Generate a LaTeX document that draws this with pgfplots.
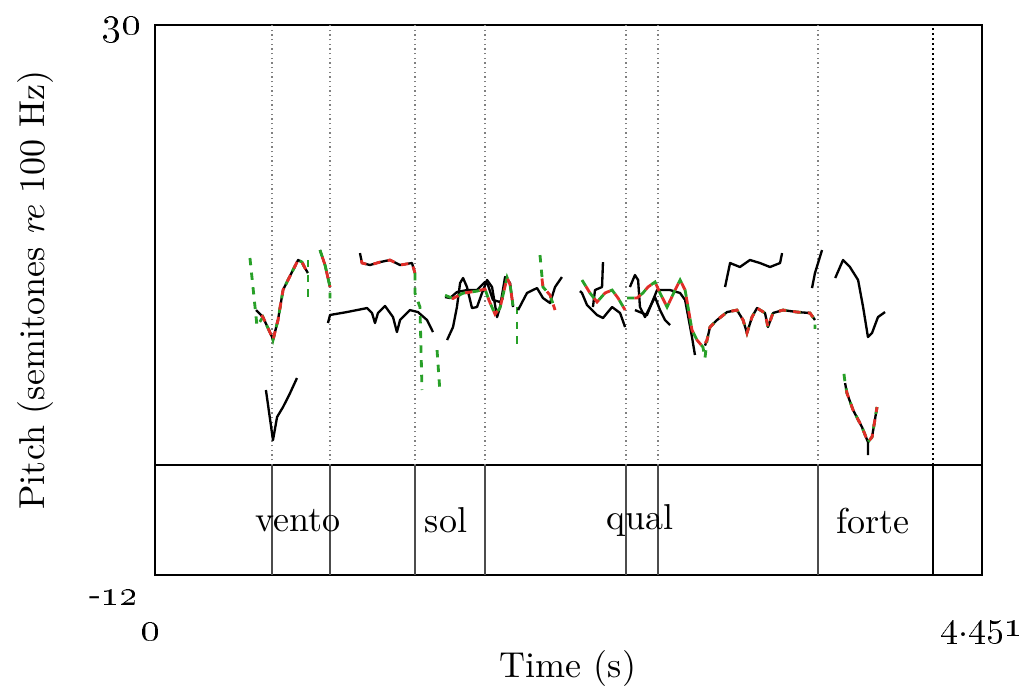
\documentclass[border=0pt]{standalone}
\usepackage{pgfplots}
\pgfplotsset{compat=1.18}
\definecolor{pred}{RGB}{225,45,40}
\definecolor{pgreen}{RGB}{40,160,40}
\begin{document}
\begin{tikzpicture}[font=\fontsize{10.8}{13}\selectfont]
\begin{axis}[name=ax,scale only axis,width=248.1pt,height=165pt,
  xmin=0,xmax=4.451,ymin=-22.5,ymax=30,
  xtick=\empty,ytick=\empty,axis line style={line width=0.45pt},
  blk/.style={black,line width=0.7pt,line join=round},
  gd/.style={pgreen,line width=0.85pt,dash pattern=on 2.2pt off 2.2pt},
  rd/.style={pred,line width=0.85pt,dash pattern=on 2.2pt off 2.2pt,dash phase=2.2pt},
  bnd/.style={gray,line width=0.4pt,densely dotted},
  tier/.style={black!70,line width=0.45pt}]
% tier separator
\addplot[black,line width=0.45pt] coordinates {(0,-12) (4.451,-12)};
% interval boundaries: dotted over pitch, solid in the tier
\foreach \t in {0.630,0.942,1.399,1.776,2.535,2.707,3.568}{
  \edef\tmp{\noexpand\addplot[bnd] coordinates {(\t,-12) (\t,30)};
    \noexpand\addplot[tier] coordinates {(\t,-22.5) (\t,-12)};}\tmp}
\addplot[black,line width=0.5pt,densely dotted] coordinates {(4.187,-12) (4.187,30)};
\addplot[black,line width=0.6pt] coordinates {(4.187,-22.5) (4.187,-12)};
% vento
\addplot[blk] coordinates {(0.544,2.79) (0.581,2.12) (0.630,0.22) (0.635,-0.07) (0.662,1.84) (0.689,4.70) (0.716,5.66) (0.770,7.57) (0.791,7.37) (0.807,6.80) (0.823,6.33)};
\addplot[gd] coordinates {(0.511,7.76) (0.549,1.27) (0.581,2.12) (0.630,0.22) (0.635,-0.07) (0.662,1.84) (0.689,4.70) (0.716,5.66) (0.770,7.57) (0.791,7.37) (0.807,6.80) (0.823,6.33)};
\addplot[rd] coordinates {(0.544,2.79) (0.581,2.12) (0.630,0.22) (0.635,-0.07) (0.662,1.84) (0.689,4.70) (0.716,5.66) (0.770,7.57) (0.791,7.37) (0.807,6.80) (0.823,6.33)};
\addplot[gd] coordinates {(0.823,7.57) (0.823,3.56)};
\addplot[blk] coordinates {(0.888,8.52) (0.915,7.09) (0.942,4.99)};
\addplot[gd] coordinates {(0.888,8.52) (0.915,7.09) (0.942,4.99) (0.942,3.9)};
\addplot[rd] coordinates {(0.888,8.52) (0.915,7.09) (0.942,4.99)};
\addplot[blk] coordinates {(0.597,-4.84) (0.635,-9.62) (0.657,-7.42) (0.689,-6.47) (0.727,-5.13) (0.764,-3.70)};
\addplot[blk] coordinates {(0.931,1.55) (0.942,2.32) (1.033,2.60) (1.141,2.98) (1.168,2.51) (1.184,1.55) (1.200,2.51) (1.238,3.18) (1.281,2.12) (1.302,0.69) (1.319,1.84) (1.372,2.79) (1.415,2.60) (1.464,1.84) (1.496,0.69)};
\addplot[blk] coordinates {(1.103,8.23) (1.114,7.28) (1.157,7.09) (1.211,7.37) (1.265,7.57) (1.319,7.09) (1.383,7.28) (1.399,6.33)};
\addplot[rd] coordinates {(1.103,8.23) (1.114,7.28) (1.157,7.09) (1.211,7.37) (1.265,7.57) (1.319,7.09) (1.383,7.28) (1.399,6.33)};
\addplot[gd] coordinates {(1.399,6.33) (1.399,4.42) (1.426,3.08) (1.437,-4.84)};
\addplot[gd] coordinates {(1.518,-1.03) (1.534,-5.13)};
% sol
\addplot[blk] coordinates {(1.572,-0.07) (1.604,1.17) (1.625,3.08) (1.642,5.37) (1.658,5.85) (1.679,4.99) (1.706,2.98) (1.733,3.08) (1.760,4.42) (1.787,5.66) (1.814,4.99) (1.841,2.12) (1.857,3.08) (1.884,5.94) (1.911,5.37) (1.927,3.08)};
\addplot[blk] coordinates {(1.561,4.03) (1.588,3.94) (1.625,4.51) (1.679,4.70) (1.733,4.70) (1.776,5.47) (1.792,5.18) (1.819,3.75) (1.857,3.56) (1.873,3.94)};
\addplot[gd] coordinates {(1.561,4.2) (1.604,3.9) (1.658,4.4) (1.733,4.6) (1.776,4.8) (1.798,3.7) (1.830,2.4) (1.857,3.0) (1.895,5.9) (1.911,5.2) (1.927,3.2)};
\addplot[rd] coordinates {(1.561,4.2) (1.604,3.9) (1.658,4.4) (1.733,4.6) (1.776,4.8) (1.798,3.7) (1.830,2.4) (1.857,3.0) (1.895,5.9) (1.911,5.2) (1.927,3.2)};
\addplot[gd] coordinates {(1.948,3.08) (1.948,-0.74)};
\addplot[blk] coordinates {(1.954,2.79) (2.002,4.42) (2.056,4.89) (2.088,3.94) (2.126,3.46) (2.153,4.99) (2.190,5.94)};
\addplot[gd] coordinates {(2.072,8.04) (2.088,4.99) (2.126,4.22) (2.153,2.79)};
\addplot[rd] coordinates {(2.078,6.5) (2.088,4.99) (2.126,4.22) (2.153,2.79)};
% qual
\addplot[blk] coordinates {(2.287,4.6) (2.298,4.42) (2.325,3.27) (2.379,2.32) (2.411,2.03) (2.460,3.08) (2.503,2.51) (2.530,1.17)};
\addplot[blk] coordinates {(2.357,3.08) (2.368,4.70) (2.406,4.99) (2.411,7.37)};
\addplot[gd] coordinates {(2.298,5.66) (2.341,4.42) (2.379,3.56) (2.422,4.42) (2.460,4.70) (2.492,3.94) (2.530,2.79)};
\addplot[rd] coordinates {(2.298,5.66) (2.341,4.42) (2.379,3.56) (2.422,4.42) (2.460,4.70) (2.492,3.94) (2.530,2.79)};
\addplot[blk] coordinates {(2.556,4.99) (2.583,6.13) (2.600,5.66) (2.610,3.08) (2.637,2.12) (2.664,3.08) (2.691,4.03) (2.718,2.79) (2.745,1.84) (2.772,1.36)};
\addplot[blk] coordinates {(2.583,2.79) (2.648,2.32) (2.702,4.70) (2.772,4.70) (2.826,4.42) (2.853,3.75) (2.890,0.22) (2.906,-1.50)};
\addplot[blk] coordinates {(2.960,-0.6) (2.971,-0.07) (2.987,1.17) (3.025,1.84) (3.079,2.60) (3.132,2.79) (3.165,1.84) (3.186,0.60) (3.213,2.12) (3.240,2.98) (3.283,2.51) (3.299,1.17) (3.326,2.51) (3.380,2.79) (3.455,2.60) (3.525,2.51) (3.552,1.84)};
\addplot[gd] coordinates {(2.541,3.94) (2.594,3.94) (2.626,4.42) (2.653,4.99) (2.691,5.47) (2.718,4.42) (2.756,3.08) (2.799,4.70) (2.826,5.66) (2.853,4.70) (2.890,0.89) (2.917,-0.07) (2.949,-0.74) (2.960,-1.8) (2.971,-0.07) (2.987,1.17) (3.025,1.84) (3.079,2.60) (3.132,2.79) (3.165,1.84) (3.186,0.60) (3.213,2.12) (3.240,2.98) (3.283,2.51) (3.299,1.17) (3.326,2.51) (3.380,2.79) (3.455,2.60) (3.525,2.51) (3.552,1.84) (3.552,1.0)};
\addplot[rd] coordinates {(2.541,3.94) (2.594,3.94) (2.626,4.42) (2.653,4.99) (2.691,5.47) (2.718,4.42) (2.756,3.08) (2.799,4.70) (2.826,5.66) (2.853,4.70) (2.890,0.89) (2.917,-0.07) (2.949,-0.74) (2.971,-0.07) (2.987,1.17) (3.025,1.84) (3.079,2.60) (3.132,2.79) (3.165,1.84) (3.186,0.60) (3.213,2.12) (3.240,2.98) (3.283,2.51) (3.299,1.17) (3.326,2.51) (3.380,2.79) (3.455,2.60) (3.525,2.51) (3.552,1.84)};
\addplot[blk] coordinates {(3.068,4.99) (3.095,7.28) (3.148,6.90) (3.202,7.57) (3.256,7.28) (3.310,6.90) (3.364,7.28) (3.375,8.23)};
\addplot[blk] coordinates {(3.536,4.89) (3.552,6.33) (3.590,8.52)};
% forte
\addplot[blk] coordinates {(3.661,5.85) (3.703,7.57) (3.740,6.90) (3.784,5.66) (3.811,3.08) (3.837,0.22) (3.859,0.60) (3.891,2.12) (3.929,2.60)};
\addplot[blk] coordinates {(3.714,-4.18) (3.724,-5.13) (3.757,-6.75) (3.805,-8.38) (3.837,-9.81) (3.837,-11.05)};
\addplot[blk] coordinates {(3.837,-9.81) (3.859,-9.33) (3.886,-6.47)};
\addplot[gd] coordinates {(3.708,-3.3) (3.714,-4.18) (3.724,-5.13) (3.757,-6.75) (3.805,-8.38) (3.837,-9.81) (3.859,-9.33) (3.886,-6.47)};
\addplot[rd] coordinates {(3.714,-4.18) (3.724,-5.13) (3.757,-6.75) (3.805,-8.38) (3.837,-9.81) (3.859,-9.33) (3.886,-6.47)};
% tier labels
\node at (axis cs:0.770,-17.3) {vento};
\node at (axis cs:1.566,-17.3) {sol};
\node at (axis cs:2.610,-17.3) {qual};
\node at (axis cs:3.864,-17.3) {forte};
\end{axis}
\node[anchor=east,inner sep=0pt] at ([shift={(-4pt,163.5pt)}]ax.south west) {\large\oldstylenums{30}};
\node[anchor=east,inner sep=0pt] at ([shift={(-5pt,-6.9pt)}]ax.south west) {-\oldstylenums{12}};
\node at ([shift={(-1.5pt,-17.1pt)}]ax.south west) {\large\oldstylenums{0}};
\node at ([shift={(248pt,-17.1pt)}]ax.south west) {\oldstylenums{4}.\oldstylenums{451}};
\node at ([shift={(123.9pt,-27.9pt)}]ax.south west) {Time (s)};
\node[rotate=90] at ([shift={(-36pt,85.5pt)}]ax.south west) {Pitch (semitones \emph{re} 100 Hz)};
\pgfresetboundingbox
\path ([shift={(-46.5pt,172.5pt)}]ax.south west) rectangle ([shift={(260.1pt,-34.5pt)}]ax.south west);
\end{tikzpicture}
\end{document}
